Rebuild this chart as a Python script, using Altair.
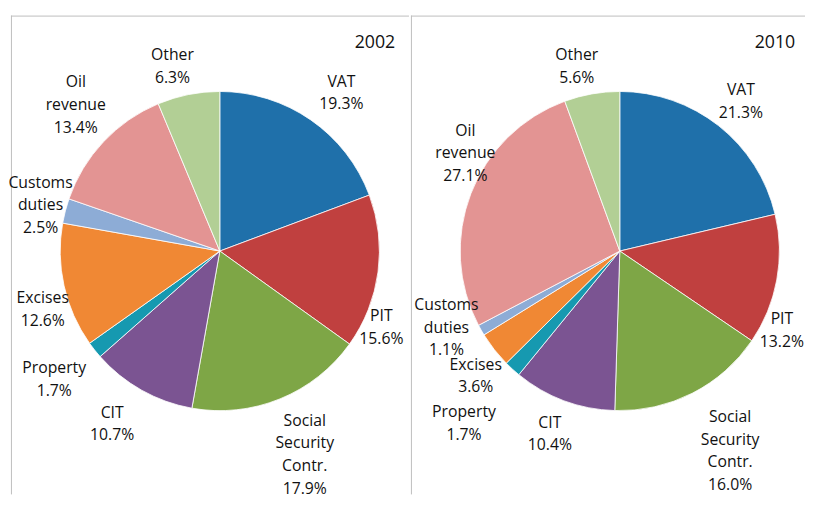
import math
import altair as alt
import pandas as pd

# ---- data -------------------------------------------------------------
categories = ["VAT", "PIT", "Social Security Contr.", "CIT", "Property",
              "Excises", "Customs duties", "Oil revenue", "Other"]
label_names = ["VAT", "PIT", "Social\nSecurity\nContr.", "CIT", "Property",
               "Excises", "Customs\nduties", "Oil\nrevenue", "Other"]
share_2002 = [19.3, 15.6, 17.9, 10.7, 1.7, 12.6, 2.5, 13.4, 6.3]
share_2010 = [21.3, 13.2, 16.0, 10.4, 1.7, 3.6, 1.1, 27.1, 5.6]
years = ["2002", "2010"]

# ---- style --------------------------------------------------------------
colors = ["#1f70aa", "#c0403f", "#7ea646", "#7b5492", "#1699b0",
          "#f08834", "#8dacd6", "#e39493", "#b2cf95"]
FONT = "Open Sans"
PIE_R = 162
CX, CY = 212, 243
H = 490
LINE_H = 23
LABEL_DY = 1
WIDTHS = [404, 400]
# label placement (like Excel "best fit"): angular nudge (deg) and distance (px)
label_nudge = {
    "2002": [2.7, 17.5, -0.6, 2.7, 0.8, -5.4, 0, 2.4, -3],
    "2010": [0.5, 15.5, -2.0, 0.5, 0, -2.6, 6.1, 11.5, -3],
}
label_dist = {
    "2002": [203, 181, 223, 206, 212, 189, 188, 209, 194],
    "2010": [196, 183, 231, 198, 235, 193, 192, 186, 193],
}


def frame(values, year):
    total = sum(values)
    cum = 0.0
    rows = []
    for i, (c, n, v) in enumerate(zip(categories, label_names, values)):
        mid = (cum + v / 2) / total * 360
        cum += v
        text = f"{n}\n{v:.1f}%"
        nlines = text.count("\n") + 1
        a = math.radians(mid + label_nudge[year][i])
        d = label_dist[year][i]
        # centre of the text block, then move anchor up to the first line
        dx = d * math.sin(a)
        dy = -d * math.cos(a) + LABEL_DY - (nlines - 1) / 2 * LINE_H
        rows.append(dict(idx=i, cat=c, share=v, label=text,
                         la=math.atan2(dx, -dy), lr=math.hypot(dx, dy)))
    return pd.DataFrame(rows)


def panel(year, values, w):
    df = frame(values, year)
    one = pd.DataFrame({"year": [year]})
    arcs = alt.Chart(df).mark_arc(outerRadius=PIE_R, stroke="white", strokeWidth=0.8).encode(
        x=alt.value(CX), y=alt.value(CY),
        theta=alt.Theta("share:Q", stack=True),
        color=alt.Color("cat:N", scale=alt.Scale(domain=categories, range=colors), legend=None),
        order=alt.Order("idx:Q"),
    )
    labels = alt.Chart(df).mark_text(font=FONT, fontSize=16, lineBreak="\n", lineHeight=LINE_H,
                                     align="center", baseline="middle", color="#111111").encode(
        x=alt.value(CX), y=alt.value(CY),
        theta=alt.Theta("la:Q", scale=None),
        radius=alt.Radius("lr:Q", scale=None),
        text="label:N",
    )
    title = alt.Chart(one).mark_text(font=FONT, fontSize=18, align="right", baseline="middle",
                                     color="#111111").encode(
        x=alt.value(390), y=alt.value(32), text="year:N")
    top = alt.Chart(one).mark_rule(color="#bdbdbd", strokeWidth=1).encode(
        x=alt.value(0), x2=alt.value(w), y=alt.value(4.5))
    left = alt.Chart(one).mark_rule(color="#bdbdbd", strokeWidth=1).encode(
        x=alt.value(0.5), y=alt.value(4), y2=alt.value(H))
    return alt.layer(top, left, arcs, labels, title).properties(width=w, height=H)


chart = alt.hconcat(
    panel(years[0], share_2002, WIDTHS[0]),
    panel(years[1], share_2010, WIDTHS[1]),
    spacing=0,
).properties(padding=0).configure_view(stroke=None)

chart.save("out.html", embed_options={"renderer": "svg", "actions": False})
